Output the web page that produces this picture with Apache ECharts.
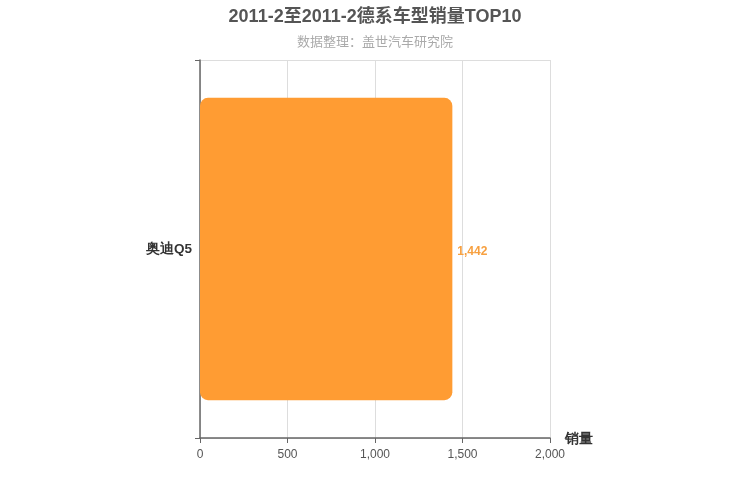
<!DOCTYPE html>
<html><head><meta charset="utf-8">
<script src="https://cdn.jsdelivr.net/npm/echarts@6/dist/echarts.min.js"></script>
<style>html,body{margin:0;padding:0;background:#fff}#c{width:750px;height:500px}</style>
</head><body><div id="c"></div>
<script>
var categories = ['奥迪Q5'];
var sales = [1442];
var xTicks = [0, 500, 1000, 1500, 2000];
var chart = echarts.init(document.getElementById('c'));
chart.setOption({
  animation: false,
  title: {
    text: '2011-2至2011-2德系车型销量TOP10',
    subtext: '数据整理：盖世汽车研究院',
    left: 'center', top: 3,
    textStyle: {fontSize: 18, fontWeight: 'bold', color: '#555', fontFamily: 'Liberation Sans, Noto Sans CJK SC, sans-serif'},
    subtextStyle: {fontSize: 13, color: '#aaa', fontFamily: 'Liberation Sans, Noto Sans CJK SC, sans-serif'},
    itemGap: 10
  },
  grid: {left: 200, right: 200, top: 60, bottom: 62},
  xAxis: {
    type: 'value', min: xTicks[0], max: xTicks[xTicks.length-1], interval: 500,
    name: '销量', nameLocation: 'end', nameGap: 15,
    nameTextStyle: {fontSize: 14, fontWeight: 'bold', color: '#333', verticalAlign: 'bottom', padding: [0,0,-8,0]},
    axisLine: {show: true, lineStyle: {color: '#666', width: 1.5}},
    axisTick: {show: true, lineStyle: {color: '#666'}},
    axisLabel: {color: '#555', fontSize: 12, margin: 11, formatter: function(v){return v.toLocaleString('en-US');}},
    splitLine: {show: true, lineStyle: {color: '#ddd'}}
  },
  yAxis: {
    type: 'category', data: categories,
    axisLine: {show: true, lineStyle: {color: '#666', width: 1.5}},
    axisTick: {show: true, lineStyle: {color: '#666'}},
    axisLabel: {color: '#333', fontSize: 13.5, fontWeight: 'bold', padding: [7,0,0,0]},
    splitLine: {show: true, lineStyle: {color: '#ddd'}}
  },
  series: [{
    type: 'bar', data: sales, barWidth: '80%',
    itemStyle: {color: '#ff9c33', borderRadius: 8},
    label: {show: true, position: 'right', distance: 5, offset: [0, 3], color: '#f7a040', fontSize: 12, fontWeight: 'bold',
      formatter: function(p){return p.value.toLocaleString('en-US');}}
  }]
});
</script></body></html>
